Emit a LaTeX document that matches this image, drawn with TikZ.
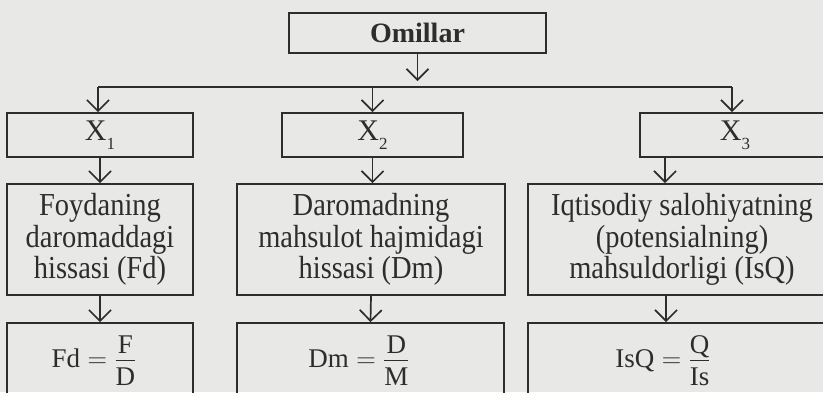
\RequirePackage{fix-cm}
\documentclass[tikz,border=0pt]{standalone}
\usepackage{amsmath}
\usepackage{fontspec}
\setmainfont{Liberation Serif}
\newfontfamily\bodyfont[FakeStretch=0.89]{Liberation Serif}
\usetikzlibrary{arrows.meta}
\definecolor{bg}{RGB}{232,232,230}
\definecolor{ink}{RGB}{45,45,45}
\newcommand\subidx[1]{\raisebox{-9pt}{\fontsize{17}{17}\selectfont #1}}
\newcommand\numer[1]{\smash[b]{\raisebox{-5pt}{#1}}}
\newcommand\myfrac[2]{\genfrac{}{}{1.4pt}{0}{\numer{#1}}{#2}}
\tikzset{
  box/.style={draw=ink, line width=1.7pt, rectangle, inner sep=0pt, text=ink, align=center},
  bodytxt/.style={font=\bodyfont\fontsize{32}{31.5}\selectfont},
  xtxt/.style={font=\fontsize{30}{30}\selectfont},
  formula/.style={text=ink, inner sep=0pt, font=\fontsize{27}{27}\selectfont},
  conn/.style={draw=ink, line width=1.7pt},
  arr/.style={conn, -{Straight Barb[length=11pt,width=22pt,line width=1.7pt]}},
}
\begin{document}
\begin{tikzpicture}[x=1pt,y=-1pt]
\fill[bg] (0,0) rectangle (823,392);
\useasboundingbox (0,0) rectangle (823,392);
\clip (0,0) rectangle (823,392);

% top
\node[box, minimum width=257pt, minimum height=40pt, font=\bfseries\fontsize{28}{28}\selectfont] (om) at (417.5,33) {Omillar};
\coordinate (busM) at (417.5,87);
\coordinate (busL) at (98,87);
\coordinate (busR) at (732,87);

% row 1
\node[box, xtxt, minimum width=186pt, minimum height=44pt] (x1) at (100,135) {X\subidx{1}};
\node[box, xtxt, minimum width=181pt, minimum height=44pt] (x2) at (372.5,135) {X\subidx{2}};
\node[box, xtxt, minimum width=190pt, minimum height=44pt] (x3) at (735,135) {X\subidx{3}};

% row 2
\node[box, bodytxt, minimum width=186pt, minimum height=111pt] (a2) at (100,239.5) {Foydaning\\daromaddagi\\hissasi (Fd)};
\node[box, bodytxt, minimum width=268pt, minimum height=111pt] (b2) at (371,239.5) {Daromadning\\mahsulot hajmidagi\\hissasi (Dm)};
\node[box, bodytxt, minimum width=308pt, minimum height=111pt] (c2) at (682,239.5) {Iqtisodiy salohiyatning\\(potensialning)\\mahsuldorligi (IsQ)};

% row 3
\node[box, minimum width=186pt, minimum height=82pt] (a3) at (100,364) {};
\node[box, minimum width=267pt, minimum height=82pt] (b3) at (370.5,364) {};
\node[box, minimum width=308pt, minimum height=82pt] (c3) at (682,364) {};
\node[formula] (f1) at (94,361) {$\displaystyle \text{Fd} = \myfrac{\text{F}}{\text{D}}$};
\node[formula] (f2) at (359,361) {$\displaystyle \text{Dm} = \myfrac{\text{D}}{\text{M}}$};
\node[formula] (f3) at (663,361) {$\displaystyle \text{IsQ} = \myfrac{\text{Q}}{\text{Is}}$};

% connectors
\draw[arr, shorten >=6pt] (om.south) -- (busM);
\draw[conn] (busL) -- (busR);
\draw[arr] (busL) -- (busL |- x1.north);
\draw[arr] (busM -| x2.north) -- (x2.north);
\draw[arr] (busR) -- (busR |- x3.north);

\draw[arr] (x1.south) -- (a2.north);
\draw[arr] (x2.south) -- (x2.south |- b2.north);
\draw[arr] ([xshift=-70pt]x3.south) -- ([xshift=-70pt]x3.south |- c2.north);

\draw[arr] (a2.south) -- (a3.north);
\draw[arr] (b2.south) -- (b3.north);
\draw[arr] ([xshift=-16pt]c2.south) -- ([xshift=-16pt]c2.south |- c3.north);
\end{tikzpicture}
\end{document}
